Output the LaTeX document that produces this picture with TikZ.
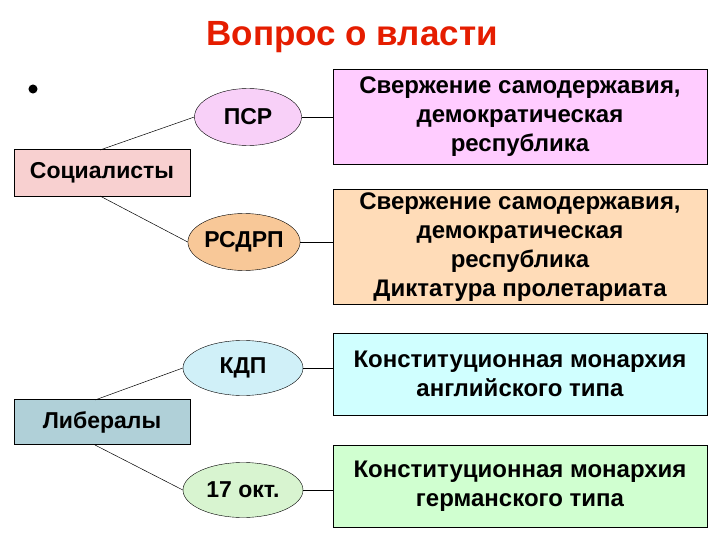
\documentclass[tikz,border=0pt]{standalone}
\usepackage{fontspec}
\setmainfont{Liberation Sans}
\usetikzlibrary{shapes.geometric}
\begin{document}
\begin{tikzpicture}[x=1pt,y=-1pt,
  ell/.style={draw,ellipse,inner sep=0pt,font=\bfseries\fontsize{23}{25}\selectfont},
  grp/.style={draw,inner sep=0pt,font=\bfseries\fontsize{23}{25}\selectfont},
  res/.style={draw,inner sep=0pt,align=center,font=\bfseries\fontsize{24}{29}\selectfont},
  ln/.style={draw,line width=0.5pt}]
\useasboundingbox (0,0) rectangle (720,540);
\node[text=red!75!orange!90!black,font=\bfseries\fontsize{35}{37}\selectfont] (title) at (352,37) {Вопрос о власти};
\node[circle,fill=black,inner sep=3.2pt] (bul) at (33,89) {};
\node[grp,fill={rgb,255:red,248;green,208;blue,208},minimum width=176,minimum height=47] (soc) at (102,173) {Социалисты};
\node[grp,fill={rgb,255:red,176;green,208;blue,216},minimum width=176,minimum height=45] (lib) at (102,422) {Либералы};
\node[ell,fill={rgb,255:red,248;green,208;blue,248},minimum width=107,minimum height=57] (psr) at (248,117) {ПСР};
\node[ell,fill={rgb,255:red,248;green,200;blue,152},minimum width=107,minimum height=57] (rsdrp) at (244,242) {РСДРП};
\node[ell,fill={rgb,255:red,208;green,240;blue,248},minimum width=120,minimum height=55] (kdp) at (243,368) {КДП};
\node[ell,fill={rgb,255:red,216;green,244;blue,208},minimum width=120,minimum height=55] (okt) at (243,490) {17 окт.};
\node[res,fill={rgb,255:red,255;green,204;blue,255},minimum width=374,minimum height=95] (b1) at (520,117) {Свержение самодержавия,\\демократическая\\республика};
\node[res,fill={rgb,255:red,255;green,220;blue,184},minimum width=374,minimum height=115] (b2) at (520,247) {Свержение самодержавия,\\демократическая\\республика\\Диктатура пролетариата};
\node[res,fill={rgb,255:red,208;green,255;blue,255},minimum width=374,minimum height=82] (b3) at (520,374) {Конституционная монархия\\английского типа};
\node[res,fill={rgb,255:red,208;green,255;blue,208},minimum width=374,minimum height=82] (b4) at (520,486) {Конституционная монархия\\германского типа};
\coordinate (st) at (100,150);
\coordinate (sb) at (100,196);
\coordinate (lt) at (95,400);
\coordinate (lb) at (95,445);
\draw[ln] (st) -- (psr.west);
\draw[ln] (sb) -- (rsdrp.west);
\draw[ln] (lt) -- (kdp.west);
\draw[ln] (lb) -- (okt.west);
\draw[ln] (psr.east) -- (psr.east -| b1.west);
\draw[ln] (rsdrp.east) -- (rsdrp.east -| b2.west);
\draw[ln] (kdp.east) -- (kdp.east -| b3.west);
\draw[ln] (okt.east) -- (okt.east -| b4.west);
\end{tikzpicture}
\end{document}
